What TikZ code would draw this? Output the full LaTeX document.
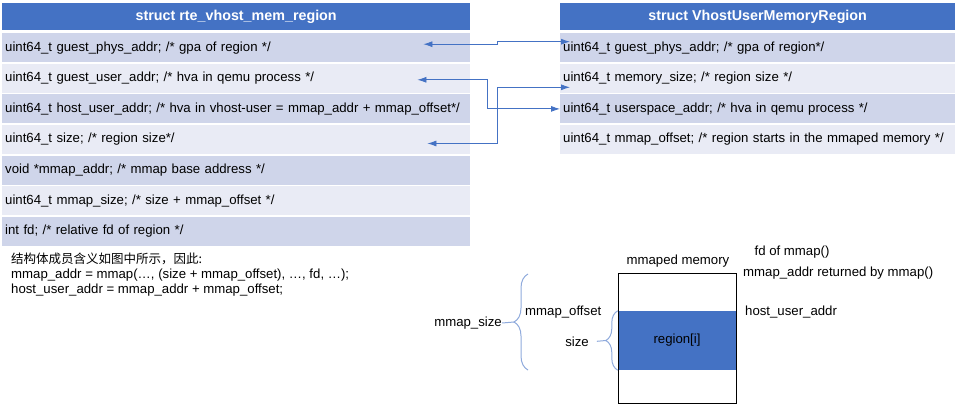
\documentclass[tikz,border=0pt]{standalone}
\usepackage{fontspec}
\setmainfont{Liberation Sans}
\newfontfamily\cjk{Noto Sans CJK SC}
\usepackage{xcolor}
\usetikzlibrary{decorations.pathreplacing,arrows.meta}

\definecolor{hdrblue}{HTML}{4472C4}
\definecolor{rowdark}{HTML}{CFD5EA}
\definecolor{rowlight}{HTML}{E9EBF5}
\definecolor{bracecol}{HTML}{8FAADC}

\tikzset{
  txt/.style={font=\fontsize{13.2}{16}\selectfont, inner sep=0pt},
  header/.style={txt, fill=hdrblue, text=white, font=\fontsize{14.3}{16}\selectfont\bfseries,
    minimum height=27pt, anchor=north west},
  row/.style={txt, minimum height=29pt, anchor=north west, text width=#1, inner xsep=3pt, align=left},
  link/.style={draw=hdrblue, line width=0.8pt, {Latex[length=9pt,width=6pt]}-{Latex[length=9pt,width=6pt]}},
  brc/.style={draw=bracecol, line width=1pt},
}

\begin{document}
\begin{tikzpicture}[x=1pt, y=-1pt]
\useasboundingbox (0,0) rectangle (956,409);

% struct rte_vhost_mem_region
\node[header, minimum width=468pt] (lhead) at (2,3) {struct rte\_vhost\_mem\_region};
\node[row=462pt, fill=rowdark]  (lphys) at (2,33)    {uint64\_t guest\_phys\_addr; /* gpa of region */};
\node[row=462pt, fill=rowlight] (luser) at (2,63.6)  {uint64\_t guest\_user\_addr; /* hva in qemu process */};
\node[row=462pt, fill=rowdark]  (lhost) at (2,94.2)  {uint64\_t host\_user\_addr; /* hva in vhost-user = mmap\_addr + mmap\_offset*/};
\node[row=462pt, fill=rowlight] (lsize) at (2,124.8) {uint64\_t size; /* region size*/};
\node[row=462pt, fill=rowdark]  (laddr) at (2,155.4) {void *mmap\_addr; /* mmap base address */};
\node[row=462pt, fill=rowlight] (lmsz)  at (2,186)   {uint64\_t mmap\_size; /* size + mmap\_offset */};
\node[row=462pt, fill=rowdark]  (lfd)   at (2,216.6) {int fd; /* relative fd of region */};

% struct VhostUserMemoryRegion
\node[header, minimum width=395pt] (rhead) at (560,3) {struct VhostUserMemoryRegion};
\node[row=389pt, fill=rowdark]  (rphys)   at (560,33)    {uint64\_t guest\_phys\_addr; /* gpa of region*/};
\node[row=389pt, fill=rowlight] (rmem)    at (560,63.6)  {uint64\_t memory\_size; /* region size */};
\node[row=389pt, fill=rowdark]  (ruspace) at (560,94.2)  {uint64\_t userspace\_addr; /* hva in qemu process */};
\node[row=389pt, fill=rowlight] (roff)    at (560,124.8) {uint64\_t mmap\_offset; /* region starts in the mmaped memory */};

% links between the members
\draw[link] ([xshift=-47pt,yshift=3.5pt]lphys.east) -| ([xshift=-63pt,yshift=6pt]rphys.west) -- ([xshift=10pt,yshift=6pt]rphys.west);
\draw[link] ([xshift=-53pt,yshift=-1.5pt]luser.east) -| ([xshift=-73pt]ruspace.west) -- (ruspace.west);
\draw[link] ([xshift=-43pt,yshift=-4pt]lsize.east) -| ([xshift=-63pt,yshift=-9pt]rmem.west) -- ([xshift=10pt,yshift=-9pt]rmem.west);

% note
\node[txt, anchor=north west, align=left, font=\fontsize{13.2}{15}\selectfont] (note) at (11,253)
  {{\cjk\fontsize{12.5}{15}\selectfont 结构体成员含义如图中所示，因此:}\\
   mmap\_addr = mmap(…, (size + mmap\_offset), …, fd, …);\\
   host\_user\_addr = mmap\_addr + mmap\_offset;};

% mmaped memory
\node[fill=hdrblue, minimum width=118pt, minimum height=59pt, txt] (reg) at (677,340.5) {region[i]};
\node[draw, minimum width=118pt, minimum height=130pt, inner sep=0pt] (mem) at (677,338) {};
\node[txt] (mmaped) at (678,261) {mmaped memory};
\node[txt] (fdof) at (792,252) {fd of mmap()};
\node[txt, anchor=west] (retby) at (743,273) {mmap\_addr returned by mmap()};
\node[txt, anchor=west] (hostaddr) at (745,312) {host\_user\_addr};
\node[txt, anchor=west] (moff) at (525,312) {mmap\_offset};
\node[txt] (sz) at (577,342) {size};
\node[txt, anchor=east] (msz) at (502,323) {mmap\_size};

% braces
\coordinate (bigtop) at (528,274);
\coordinate (bigbot) at (528,370);
\coordinate (bigtip) at (514,322);
\coordinate (smalltip) at (606,340.5);
\draw[brc, decorate, decoration={brace, amplitude=14pt}] (bigbot) -- (bigtop);
\draw[brc, decorate, decoration={brace, amplitude=12pt}] (reg.south west) -- (reg.north west);
\draw[brc] (msz.east) -- (bigtip);
\draw[brc, shorten <=8pt] (sz.east) -- (smalltip);

\end{tikzpicture}
\end{document}
